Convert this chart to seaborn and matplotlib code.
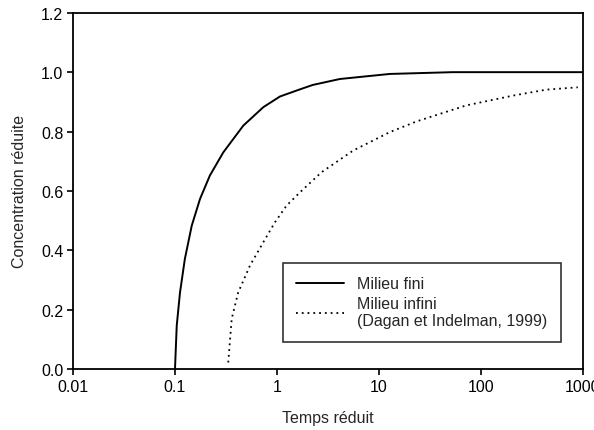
import numpy as np
import pandas as pd
import matplotlib
matplotlib.use("Agg")
import matplotlib.pyplot as plt
import seaborn as sns

# Data (log time axis)
t_fini = [0.1, 0.104, 0.112, 0.125, 0.146, 0.176, 0.22, 0.298, 0.468, 0.735,
          1.07, 1.68, 2.25, 4.15, 12.8, 53, 1000]
c_fini = [0.0, 0.146, 0.258, 0.371, 0.483, 0.573, 0.652, 0.73, 0.82, 0.882,
          0.918, 0.942, 0.957, 0.977, 0.994, 1.0, 1.0]

t_infini = [0.333, 0.36, 0.417, 0.543, 0.735, 0.955, 1.24, 1.68, 2.74, 5.6,
            12.8, 23.4, 72, 207, 437, 895]
c_infini = [0.022, 0.169, 0.258, 0.348, 0.427, 0.494, 0.55, 0.595, 0.663, 0.736,
            0.798, 0.834, 0.888, 0.921, 0.941, 0.949]

x_ticks = [0.01, 0.1, 1, 10, 100, 1000]
x_labels = ["0.01", "0.1", "1", "10", "100", "1000"]
y_ticks = [0.0, 0.2, 0.4, 0.6, 0.8, 1.0, 1.2]

fini = pd.DataFrame({"t": t_fini, "c": c_fini})
infini = pd.DataFrame({"t": t_infini, "c": c_infini})

sns.set_style("ticks")
plt.rcParams["font.family"] = ["Liberation Sans", "DejaVu Sans"]

fig = plt.figure(figsize=(5.94, 4.31), dpi=100)
ax = fig.add_axes([0.123, 0.1415, 0.858, 0.8265])

sns.lineplot(data=fini, x="t", y="c", ax=ax, color="black", lw=1.4,
             label="Milieu fini")
sns.lineplot(data=infini, x="t", y="c", ax=ax, color="black", lw=1.3,
             linestyle=(0, (1, 2.2)),
             label="Milieu infini\n(Dagan et Indelman, 1999)")

ax.set_xscale("log")
ax.set_xlim(0.01, 1000)
ax.set_ylim(0, 1.2)
ax.set_xticks(x_ticks)
ax.set_xticklabels(x_labels)
ax.minorticks_off()
ax.set_yticks(y_ticks)
ax.set_yticklabels([f"{v:.1f}" for v in y_ticks])
ax.tick_params(labelsize=11.5, length=4, width=1.2, colors="black", pad=3)

for s in ax.spines.values():
    s.set_color("black")
    s.set_linewidth(1.3)

ax.set_xlabel("Temps réduit", fontsize=11.5, labelpad=12)
ax.set_ylabel("Concentration réduite", fontsize=11.5, labelpad=10)

leg = ax.legend(loc="lower right", bbox_to_anchor=(0.957, 0.076),
                borderaxespad=0, fontsize=11.5, frameon=True, fancybox=False,
                handlelength=3.0, borderpad=0.85, labelspacing=0.3,
                handletextpad=0.8)
leg.get_frame().set_edgecolor("black")
leg.get_frame().set_linewidth(1.2)

fig.savefig("out.png", dpi=100)
